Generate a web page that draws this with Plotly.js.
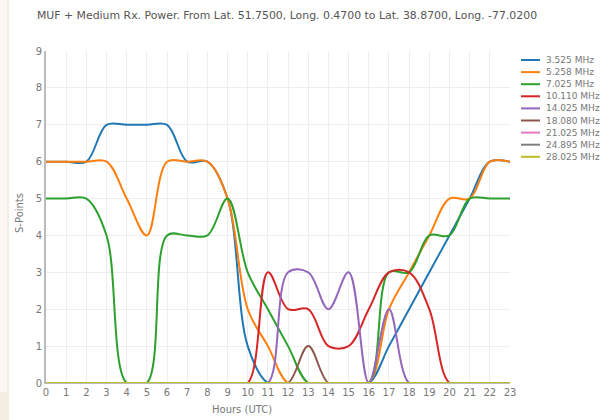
<!DOCTYPE html>
<html>
<head>
<meta charset="utf-8">
<script src="https://cdn.plot.ly/plotly-3.0.1.min.js"></script>
<style>
html,body{margin:0;padding:0;background:#fff;}
#wrap{position:relative;width:601px;height:420px;}
#strip{position:absolute;left:0;top:0;width:7px;height:392px;border-right:2px solid #f3ece1;background:#fbf8f3;}
#stripb{position:absolute;left:0;top:392px;width:9px;height:28px;background:#f3ece1;}
#chart{position:absolute;left:0;top:0;width:601px;height:420px;}
</style>
</head>
<body>
<div id="wrap"><div id="strip"></div><div id="stripb"></div><div id="chart"></div></div>
<script>
const hours = [0,1,2,3,4,5,6,7,8,9,10,11,12,13,14,15,16,17,18,19,20,21,22,23];
const seriesNames = ["3.525 MHz","5.258 MHz","7.025 MHz","10.110 MHz","14.025 MHz","18.080 MHz","21.025 MHz","24.895 MHz","28.025 MHz"];
const colors = ["#1f77b4","#ff7f0e","#2ca02c","#d62728","#9467bd","#8c564b","#e377c2","#7f7f7f","#bcbd22"];
const f3525  = [6,6,6,7,7,7,7,6,6,5,1,0,0,0,0,0,0,1,2,3,4,5,6,6];
const f5258  = [6,6,6,6,5,4,6,6,6,5,2,1,0,0,0,0,0,2,3,4,5,5,6,6];
const f7025  = [5,5,5,4,0,0,4,4,4,5,3,2,1,0,0,0,0,3,3,4,4,5,5,5];
const f10110 = [0,0,0,0,0,0,0,0,0,0,0,3,2,2,1,1,2,3,3,2,0,0,0,0];
const f14025 = [0,0,0,0,0,0,0,0,0,0,0,0,3,3,2,3,0,2,0,0,0,0,0,0];
const f18080 = [0,0,0,0,0,0,0,0,0,0,0,0,0,1,0,0,0,0,0,0,0,0,0,0];
const f21025 = [0,0,0,0,0,0,0,0,0,0,0,0,0,0,0,0,0,0,0,0,0,0,0,0];
const f24895 = [0,0,0,0,0,0,0,0,0,0,0,0,0,0,0,0,0,0,0,0,0,0,0,0];
const f28025 = [0,0,0,0,0,0,0,0,0,0,0,0,0,0,0,0,0,0,0,0,0,0,0,0];
const allSeries = [f3525,f5258,f7025,f10110,f14025,f18080,f21025,f24895,f28025];
const titleText = "MUF + Medium Rx. Power. From Lat. 51.7500, Long. 0.4700 to Lat. 38.8700, Long. -77.0200";

const font = "Verdana, 'DejaVu Sans', sans-serif";
const traces = allSeries.map((ys,i)=>({
  x: hours, y: ys, type:"scatter", mode:"lines", name: seriesNames[i],
  line:{color:colors[i], width:2, shape:"spline", smoothing:1},
  showlegend:false, cliponaxis:false
}));

const W=601,H=420;
const shapes=[], annotations=[];
seriesNames.forEach((n,i)=>{
  const yPx = 60 + i*12.1;
  shapes.push({type:"line", xref:"paper", yref:"paper",
    x0:(521-46)/464, x1:(540-46)/464, y0:(383-yPx)/332, y1:(383-yPx)/332,
    line:{color:colors[i], width:2}});
  annotations.push({xref:"paper", yref:"paper", x:(544-46)/464, y:(383-yPx)/332,
    xanchor:"left", yanchor:"middle", text:n, showarrow:false,
    font:{family:font, size:9, color:"#777"}});
});
annotations.push({xref:"paper", yref:"paper", x:(242-46)/464, y:(383-410)/332,
  xanchor:"center", yanchor:"middle", text:"Hours (UTC)", showarrow:false,
  font:{family:font, size:10, color:"#777"}});
annotations.push({xref:"paper", yref:"paper", x:(19-46)/464, y:(383-213)/332,
  xanchor:"center", yanchor:"middle", text:"S-Points", showarrow:false, textangle:-90,
  font:{family:font, size:10, color:"#777"}});

const layout = {
  width:W, height:H,
  paper_bgcolor:"rgba(0,0,0,0)", plot_bgcolor:"rgba(0,0,0,0)",
  margin:{l:46, r:91, t:51, b:37, pad:0},
  title:{text:titleText, x:287/601, xanchor:"center", xref:"container", y:1-15/420, yanchor:"middle", yref:"container",
    font:{family:font, size:10.9, color:"#555"}},
  xaxis:{range:[0,23], tickvals:hours, ticktext:hours.map(String), showgrid:true, gridcolor:"#eeeeee",
    zeroline:false, showline:true, linecolor:"#bbbbbb", linewidth:1, ticks:"",
    tickfont:{family:font, size:10, color:"#777"}, fixedrange:true},
  yaxis:{range:[0,9], tickvals:[0,1,2,3,4,5,6,7,8,9], showgrid:true, gridcolor:"#eeeeee",
    zeroline:false, showline:true, linecolor:"#bbbbbb", linewidth:2, ticks:"",
    tickfont:{family:font, size:10, color:"#777"}, fixedrange:true},
  shapes, annotations, showlegend:false
};
Plotly.newPlot("chart", traces, layout, {displayModeBar:false, staticPlot:true});
</script>
</body>
</html>
